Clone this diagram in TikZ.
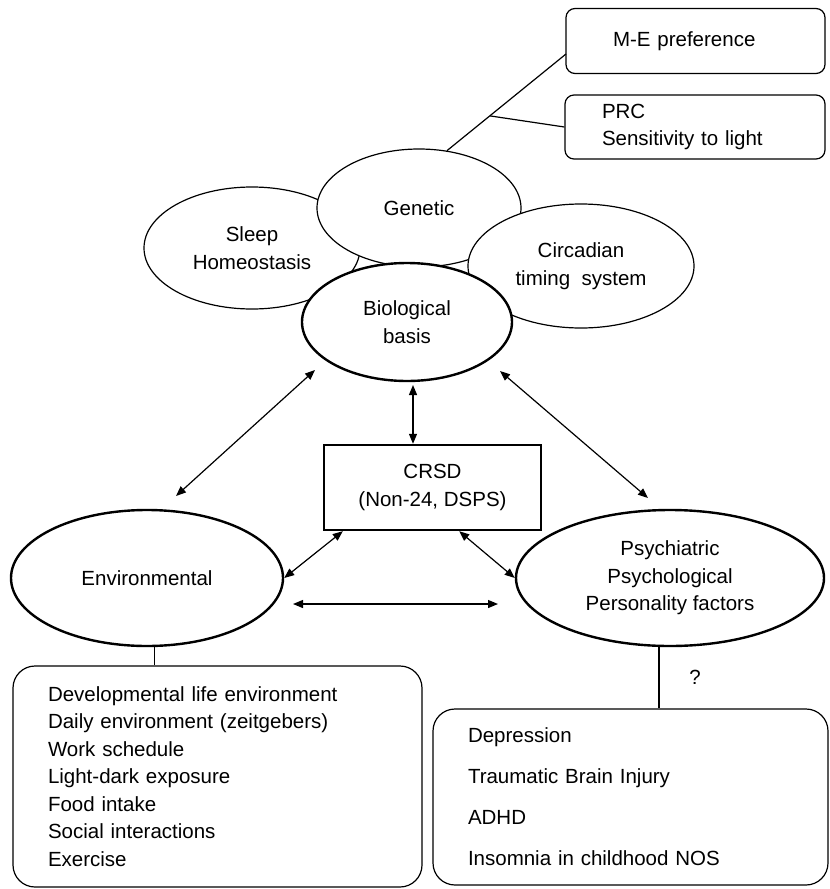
\documentclass[tikz,border=0pt]{standalone}
\usepackage{fontspec}
\setmainfont{Liberation Sans}
\usetikzlibrary{shapes.geometric, arrows.meta, calc}

\begin{document}
\begin{tikzpicture}[x=1pt, y=-1pt,
font=\fontsize{20.5}{27.5}\selectfont,
oval/.style={ellipse, draw=black, line width=1.2pt, fill=white, inner sep=0pt, align=center},
boldoval/.style={oval, line width=2.4pt},
box/.style={rectangle, draw=black, line width=1.2pt, rounded corners=9pt, inner ysep=0pt, align=left},
link/.style={line width=1.2pt},
twoway/.style={line width=1.2pt, {Triangle[length=10pt, width=8pt]}-{Triangle[length=10pt, width=8pt]}},
]
\useasboundingbox (0,0) rectangle (830,889);
%Nodes
\node[box, minimum width=259pt, minimum height=65pt, text width=165pt, inner xsep=47pt] (pref) at (695.5,41) {M-E preference};
\node[box, minimum width=260pt, minimum height=64pt, text width=186pt, inner xsep=37pt] (prc) at (695,127) {PRC\\Sensitivity to light};
\node[oval, minimum width=216pt, minimum height=122pt] (sleep) at (252,248) {Sleep\\Homeostasis};
\node[oval, minimum width=204pt, minimum height=118pt] (genetic) at (419,208) {Genetic};
\node[oval, minimum width=226pt, minimum height=124pt] (circ) at (581,266) {Circadian\\timing~ system};
\node[boldoval, minimum width=210pt, minimum height=118pt] (bio) at (407,322) {Biological\\basis};
\node[rectangle, draw=black, line width=2.4pt, minimum width=217pt, minimum height=85pt, align=center] (crsd) at (432.5,487.5) {CRSD\\(Non-24, DSPS)};
\node[boldoval, minimum width=272pt, minimum height=136pt] (env) at (147,578) {Environmental};
\node[boldoval, minimum width=308pt, minimum height=136pt] (psy) at (670,578) {Psychiatric\\Psychological\\Personality factors};
\node[box, rounded corners=22pt, minimum width=409pt, minimum height=221pt, text width=339pt, inner xsep=35pt] (envlist) at (217.5,776.5) {Developmental life environment\\Daily environment (zeitgebers)\\Work schedule\\Light-dark exposure\\Food intake\\Social interactions\\Exercise};
\node[box, rounded corners=22pt, minimum width=395pt, minimum height=176pt, text width=325pt, inner xsep=35pt, font=\fontsize{20.5}{41}\selectfont] (psylist) at (630.5,797) {Depression\\Traumatic Brain Injury\\ADHD\\Insomnia in childhood NOS};
\node (unknown) at (695,677) {?};

\node[coordinate] (prefend) at (566,54) {};
\node[coordinate] (fork) at ($(genetic.64)!0.36!(prefend)$) {};
\node[coordinate] (bioleft) at (315,370) {};
\node[coordinate] (envtop) at (176,496) {};
\node[coordinate] (biomid) at (413,385) {};
\node[coordinate] (bioright) at (500,371) {};
\node[coordinate] (psytop) at (648,498) {};
\node[coordinate] (envside) at (293,604) {};
\node[coordinate] (psyside) at (498,604) {};

%Lines
\draw[link] (genetic.64) -- (prefend);
\draw[link] (fork) -- (prc.west);
\draw[twoway] (bioleft) -- (envtop);
\draw[twoway] (bioright) -- (psytop);
\draw[twoway] (biomid) -- (biomid |- crsd.north);
\draw[twoway] ([xshift=20pt]crsd.south west) -- (env.east);
\draw[twoway] ([xshift=-83pt]crsd.south east) -- (psy.west);
\draw[twoway] (envside) -- (psyside);
\draw[link] (env.276) -- (env.276 |- envlist.north);
\draw[link] (psy.261) -- (psy.261 |- psylist.north);

\end{tikzpicture}
\end{document}
